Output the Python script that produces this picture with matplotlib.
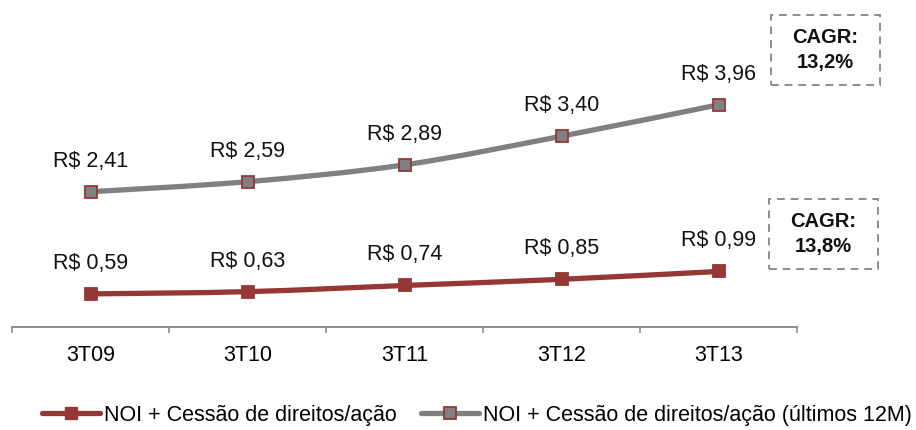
import numpy as np
import matplotlib.pyplot as plt
from matplotlib.path import Path
from matplotlib.patches import PathPatch, Rectangle
from matplotlib.lines import Line2D

plt.rcParams['font.family'] = ['Liberation Sans', 'DejaVu Sans']

periods = ['3T09', '3T10', '3T11', '3T12', '3T13']
noi_quarter = [0.59, 0.63, 0.74, 0.85, 0.99]
noi_ltm = [2.41, 2.59, 2.89, 3.40, 3.96]
cagr_quarter = '13,8%'
cagr_ltm = '13,2%'

RED = '#953735'
GRAY = '#808080'
FS = 15.5


def smooth_path(xs, ys):
    # cubic bezier through the points, like a spreadsheet "smoothed line"
    pts = np.column_stack([xs, ys]).astype(float)
    ext = np.vstack([pts[0], pts, pts[-1]])
    verts = [pts[0]]
    codes = [Path.MOVETO]
    for i in range(len(pts) - 1):
        p0, p1, p2, p3 = ext[i], ext[i + 1], ext[i + 2], ext[i + 3]
        verts += [p1 + (p2 - p0) / 6, p2 - (p3 - p1) / 6, p2]
        codes += [Path.CURVE4] * 3
    return Path(verts, codes)


def fmt(v):
    return 'R$ ' + f'{v:.2f}'.replace('.', ',')


fig = plt.figure(figsize=(9.16, 4.3), dpi=100)
ax = fig.add_axes([12 / 916, 103 / 430, 785 / 916, 308.6 / 430])
x = np.arange(len(periods))

for vals, color, mfc in [(noi_quarter, RED, RED), (noi_ltm, GRAY, GRAY)]:
    ax.add_patch(PathPatch(smooth_path(x, vals), facecolor='none',
                           edgecolor=color, lw=3.8, capstyle='round', zorder=2))
    ax.plot(x, vals, ls='none', marker='s', ms=9.2, mfc=mfc,
            mec=RED, mew=1.3, zorder=3)
    for xi, v in zip(x, vals):
        ax.annotate(fmt(v), (xi, v), xytext=(0, 22), textcoords='offset points',
                    ha='center', va='center', fontsize=FS, color='#111111')

ax.set_xlim(-0.5, len(periods) - 0.5)
ax.set_ylim(0, 5.5)
ax.set_xticks(x)
ax.set_xticklabels(periods, fontsize=FS)
ax.set_xticks(np.arange(-0.5, len(periods)), minor=True)
ax.tick_params(axis='x', which='major', length=0, pad=13)
ax.tick_params(axis='x', which='minor', length=4, width=1.2, color='#8c8c8c')
ax.set_yticks([])
for side in ['top', 'right', 'left']:
    ax.spines[side].set_visible(False)
ax.spines['bottom'].set_color('#8c8c8c')
ax.spines['bottom'].set_linewidth(1.4)

# CAGR boxes
for (x0, y0), txt in [((771, 345), cagr_ltm), ((769, 161), cagr_quarter)]:
    fig.patches.append(Rectangle((x0 / 916, y0 / 430), 109 / 916, 70 / 430,
                                 transform=fig.transFigure, fill=False,
                                 edgecolor='#8c8c8c', lw=1.4, ls=(0, (4, 3))))
    fig.text((x0 + 54.5) / 916, (y0 + 35) / 430, 'CAGR:\n' + txt,
             ha='center', va='center', fontsize=14.5, fontweight='bold',
             linespacing=1.4, color='#111111')

handles = [
    Line2D([], [], color=RED, lw=3.8, marker='s', ms=9.2, mfc=RED, mec=RED,
           solid_capstyle='round'),
    Line2D([], [], color=GRAY, lw=3.8, marker='s', ms=9.2, mfc=GRAY, mec=RED,
           mew=1.3, solid_capstyle='round'),
]
labels = ['NOI + Cessão de direitos/ação',
          'NOI + Cessão de direitos/ação (últimos 12M)']
fig.legend(handles, labels, loc='center', bbox_to_anchor=(477 / 916, 15 / 430),
           ncol=2, frameon=False, fontsize=FS, handlelength=2.7,
           handletextpad=0.2, columnspacing=1.1, borderpad=0, borderaxespad=0)

fig.savefig('out.png', dpi=100)
